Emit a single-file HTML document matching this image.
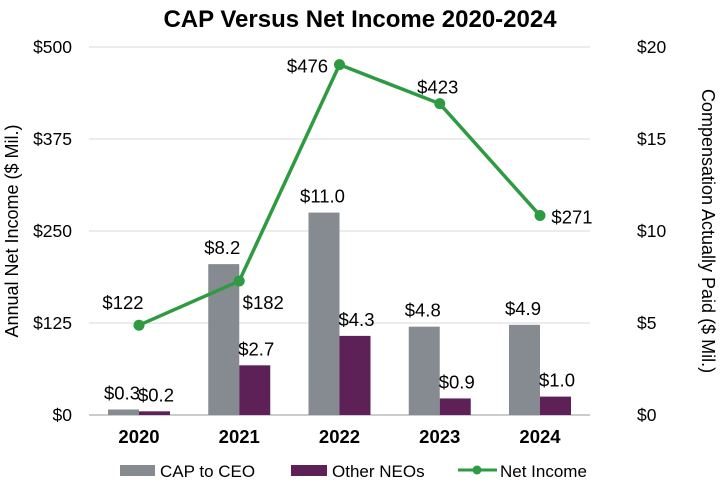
<!DOCTYPE html>
<html><head><meta charset="utf-8"><style>
body{margin:0;background:#fff;}
svg text{font-family:"Liberation Sans",Arial,sans-serif;}
</style></head><body>
<svg id="c" width="720" height="481" xmlns="http://www.w3.org/2000/svg">
<text x="360" y="27" text-anchor="middle" font-size="24" font-weight="bold" fill="#000">CAP Versus Net Income 2020-2024</text>
<text transform="translate(18,231) rotate(-90)" text-anchor="middle" font-size="18">Annual Net Income ($ Mil.)</text>
<text transform="translate(702,231) rotate(90)" text-anchor="middle" font-size="18">Compensation Actually Paid ($ Mil.)</text>
<g id="grid"></g><g id="bars"></g><g id="line"></g><g id="labels"></g>
<g>
<rect x="120" y="465" width="35" height="11" fill="#868b91"/>
<text x="160" y="477" font-size="17">CAP to CEO</text>
<rect x="291" y="465" width="36" height="11" fill="#5e2157"/>
<text x="332" y="477" font-size="17">Other NEOs</text>
<line x1="458" y1="470" x2="497" y2="470" stroke="#2e9a41" stroke-width="3"/>
<circle cx="477" cy="470" r="4.5" fill="#2e9a41"/>
<text x="500" y="477" font-size="17">Net Income</text>
</g>
</svg>
<script>
const years=["2020","2021","2022","2023","2024"];
const capCeo=[0.3,8.2,11.0,4.8,4.9];
const otherNeo=[0.2,2.7,4.3,0.9,1.0];
const netIncome=[122,182,476,423,271];
const leftTicks=[0,125,250,375,500];
const rightTicks=[0,5,10,15,20];
const NS="http://www.w3.org/2000/svg";
const y0=415,y1=47;
const yL=v=>y0-(v/500)*(y0-y1);
const yR=v=>y0-(v/20)*(y0-y1);
const xC=i=>139+i*100.25;
function mk(t,a,p){const e=document.createElementNS(NS,t);for(const k in a)e.setAttribute(k,a[k]);p.appendChild(e);return e;}
const g=document.getElementById('grid'),b=document.getElementById('bars'),l=document.getElementById('line'),lb=document.getElementById('labels');
leftTicks.forEach((v,i)=>{
 const ln=mk('line',{x1:89,x2:590,y1:yL(v),y2:yL(v),stroke:v===0?'#999':'#d9d9d9','stroke-width':1},g);
 
 
 const t=mk('text',{x:72,y:yL(v)+6,'text-anchor':'end','font-size':17.5},g);t.textContent='$'+v;
 
 
});
rightTicks.forEach(v=>{
 const t=mk('text',{x:637,y:yR(v)+6,'font-size':17.5},g);t.textContent='$'+v;
 
 
});
years.forEach((y,i)=>{
 const cx=xC(i);
 const r1=mk('rect',{x:cx-31,y:yR(capCeo[i]),width:31,height:y0-yR(capCeo[i]),fill:'#868b91'},b);
 
 
 const r2=mk('rect',{x:cx,y:yR(otherNeo[i]),width:31,height:y0-yR(otherNeo[i]),fill:'#5e2157'},b);
 
 
 const t=mk('text',{x:cx,y:443,'text-anchor':'middle','font-size':18.5,'font-weight':'bold'},lb);t.textContent=y;
 
 
 const t1=mk('text',{x:cx-17,y:yR(capCeo[i])-10,'text-anchor':'middle','font-size':18.5},lb);t1.textContent='$'+capCeo[i].toFixed(1);
 
 
 const t2=mk('text',{x:cx+17,y:yR(otherNeo[i])-10,'text-anchor':'middle','font-size':18.5},lb);t2.textContent='$'+otherNeo[i].toFixed(1);
 
 
});
const pts=netIncome.map((v,i)=>xC(i)+','+yL(v)).join(' ');
const pl=mk('polyline',{points:pts,fill:'none',stroke:'#2e9a41','stroke-width':3.5},l);


const off=[[-16,-22],[24,22],[-32,2],[-2,-16],[32,2]];
netIncome.forEach((v,i)=>{
 const c=mk('circle',{cx:xC(i),cy:yL(v),r:5.5,fill:'#2e9a41'},l);
 
 
 const t=mk('text',{x:xC(i)+off[i][0],y:yL(v)+off[i][1]+6,'text-anchor':'middle','font-size':18.5},lb);t.textContent='$'+v;
 
 
});
</script>
</body></html>
